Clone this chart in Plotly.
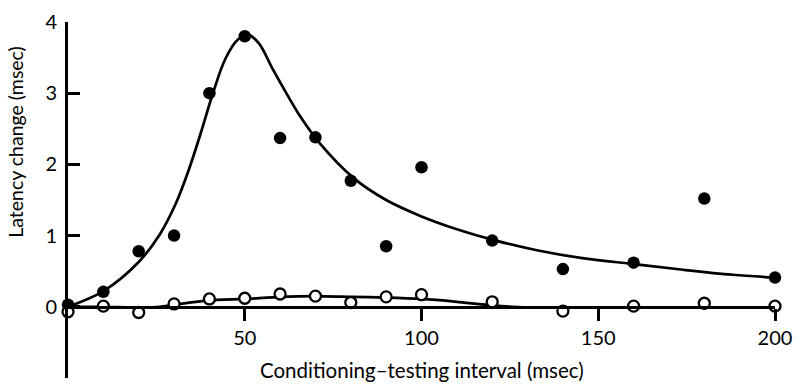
import plotly.graph_objects as go

# Data
interval = [0, 10, 20, 30, 40, 50, 60, 70, 80, 90, 100, 120, 140, 160, 180, 200]
filled_vals = [0.03, 0.21, 0.78, 1.0, 3.0, 3.8, 2.37, 2.38, 1.77, 0.85, 1.96, 0.93, 0.53, 0.62, 1.52, 0.41]
open_vals = [-0.07, 0.01, -0.08, 0.04, 0.11, 0.12, 0.18, 0.15, 0.06, 0.14, 0.17, 0.07, -0.06, 0.01, 0.05, 0.01]

curve1_x = [0, 10, 20, 26, 30.5, 34, 37.5, 41, 44.5, 48, 51, 54, 58, 62, 66, 71, 81, 90, 100, 110, 121, 133, 146, 160, 174, 188, 200]
curve1_y = [0, 0.22, 0.63, 1.02, 1.45, 1.9, 2.43, 3.0, 3.48, 3.75, 3.82, 3.7, 3.33, 2.98, 2.65, 2.31, 1.8, 1.5, 1.27, 1.09, 0.93, 0.79, 0.68, 0.6, 0.52, 0.45, 0.41]

curve2_x = [0, 10, 20, 26, 30, 40, 50, 60, 70, 80, 90, 100, 110, 120, 130, 140, 160, 180, 200]
curve2_y = [0, 0.0, -0.01, 0.0, 0.03, 0.09, 0.11, 0.14, 0.15, 0.14, 0.13, 0.11, 0.07, 0.02, -0.01, -0.01, -0.01, -0.01, -0.01]

x_ticks = [50, 100, 150, 200]
y_ticks = [-1, 0, 1, 2, 3, 4]
y_ticktext = ["\u22121", "0", "1", "2", "3", "4"]

FONT = "Lato"

fig = go.Figure()
fig.add_trace(go.Scatter(x=curve1_x, y=curve1_y, mode="lines", line=dict(color="black", width=2.7, shape="spline", smoothing=1.0), hoverinfo="skip"))
fig.add_trace(go.Scatter(x=curve2_x, y=curve2_y, mode="lines", line=dict(color="black", width=2.7, shape="spline", smoothing=0.6), hoverinfo="skip"))
fig.add_trace(go.Scatter(x=interval, y=filled_vals, mode="markers", cliponaxis=False,
                         marker=dict(size=12.5, color="black", line=dict(color="black", width=0))))
fig.add_trace(go.Scatter(x=interval, y=open_vals, mode="markers", cliponaxis=False,
                         marker=dict(size=11, color="white", line=dict(color="black", width=2.3))))

fig.update_layout(
    width=801, height=387,
    margin=dict(l=68, r=19, t=14, b=9),
    paper_bgcolor="white", plot_bgcolor="white",
    showlegend=False,
    font=dict(family=FONT, size=19, color="black"),
    xaxis=dict(range=[0, 200], anchor="free", position=0.2, showline=True, linecolor="black", linewidth=2.7,
               ticks="outside", ticklen=12, tickwidth=2.7, tickcolor="black", tickvals=x_ticks,
               showgrid=False, zeroline=False, tickfont=dict(family=FONT, size=20)),
    yaxis=dict(range=[-1, 4], showline=True, linecolor="black", linewidth=2.7,
               ticks="inside", ticklen=12, tickwidth=2.7, tickcolor="black", tickvals=y_ticks,
               ticktext=y_ticktext,
               showgrid=False, zeroline=False, ticklabelstandoff=4, tickfont=dict(family=FONT, size=20)),
    annotations=[
        dict(text="Conditioning\u2013testing interval (msec)", xref="paper", yref="paper", x=0.5, y=0.022,
             xanchor="center", yanchor="middle", showarrow=False, font=dict(family=FONT, size=20.5)),
        dict(text="Latency change (msec)", xref="paper", yref="paper", x=(15 - 68) / 714, y=1 - (137 - 14) / 364,
             xanchor="center", yanchor="middle", textangle=-90, showarrow=False, font=dict(family=FONT, size=19.5)),
    ],
)

fig.write_html("out.html")
